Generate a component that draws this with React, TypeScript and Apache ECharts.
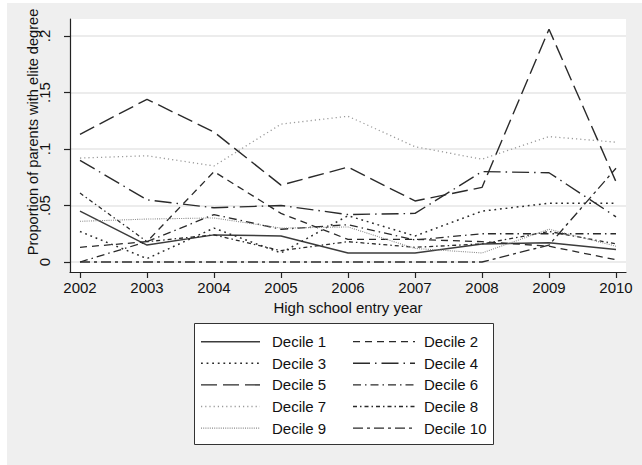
import React, { useEffect, useRef } from "react";
import * as echarts from "echarts";

const years = [2002, 2003, 2004, 2005, 2006, 2007, 2008, 2009, 2010];
const decileNames = [
  "Decile 1", "Decile 2", "Decile 3", "Decile 4", "Decile 5",
  "Decile 6", "Decile 7", "Decile 8", "Decile 9", "Decile 10",
];
const decile1 = [0.045, 0.015, 0.024, 0.023, 0.008, 0.008, 0.016, 0.017, 0.011];
const decile2 = [0.013, 0.018, 0.08, 0.043, 0.02, 0.02, 0.018, 0.014, 0.002];
const decile3 = [0.027, 0.003, 0.03, 0.008, 0.041, 0.023, 0.045, 0.052, 0.052];
const decile4 = [0.09, 0.055, 0.048, 0.05, 0.042, 0.043, 0.08, 0.079, 0.04];
const decile5 = [0.113, 0.144, 0.115, 0.068, 0.084, 0.054, 0.066, 0.206, 0.071];
const decile6 = [0.0, 0.018, 0.042, 0.029, 0.033, 0.0195, 0.025, 0.025, 0.025];
const decile7 = [0.092, 0.094, 0.085, 0.122, 0.129, 0.102, 0.091, 0.111, 0.106];
const decile8 = [0.061, 0.018, 0.024, 0.01, 0.018, 0.013, 0.016, 0.027, 0.016];
const decile9 = [0.036, 0.038, 0.039, 0.03, 0.031, 0.012, 0.008, 0.029, 0.014];
const decile10 = [0, 0, 0, 0, 0, 0, 0, 0.015, 0.083];
const yTicks = [0, 0.05, 0.1, 0.15, 0.2];
const xTicks = years;

const allSeries = [decile1, decile2, decile3, decile4, decile5, decile6, decile7, decile8, decile9, decile10];

// styles (kept apart from data)
const styles: { color: string; width: number; dash: any }[] = [
  { color: "#3c3c3c", width: 1.5, dash: "solid" },
  { color: "#2a2a2a", width: 1.3, dash: [7, 5] },
  { color: "#2a2a2a", width: 1.5, dash: [1.8, 3.8] },
  { color: "#2a2a2a", width: 1.4, dash: [17, 5, 1.5, 5] },
  { color: "#2a2a2a", width: 1.4, dash: [16, 6] },
  { color: "#2a2a2a", width: 1.3, dash: [8, 4, 1.5, 4] },
  { color: "#9a9a9a", width: 1.3, dash: [1.2, 3] },
  { color: "#2a2a2a", width: 1.3, dash: [4, 3, 1.5, 3] },
  { color: "#8a8a8a", width: 1.1, dash: [1, 1.2] },
  { color: "#2a2a2a", width: 1.3, dash: [10, 4, 3, 4] },
];

const FONT = "'Liberation Sans', Arial, Helvetica, sans-serif";
const TXT = "#111";

export default function App() {
  const ref = useRef<HTMLDivElement>(null);
  useEffect(() => {
    if (!ref.current) return;
    const chart = echarts.init(ref.current, undefined, { renderer: "svg" });

    const series = allSeries.map((vals, i) => ({
      name: decileNames[i],
      type: "line",
      data: years.map((y, j) => [y, vals[j]]),
      symbol: "none",
      silent: true,
      clip: false,
      lineStyle: { color: styles[i].color, width: styles[i].width, type: styles[i].dash, cap: "butt" },
      z: 3,
    }));

    // legend drawn as graphic
    const legendChildren: any[] = [];
    legendChildren.push({
      type: "rect",
      shape: { x: 194.5, y: 323.5, width: 299, height: 121 },
      style: { fill: "#fff", stroke: "#333", lineWidth: 1 },
    });
    decileNames.forEach((nm, i) => {
      const col = i % 2;
      const row = Math.floor(i / 2);
      const cy = 341.7 + row * 21.6;
      const x1 = col === 0 ? 201 : 353;
      const x2 = col === 0 ? 260 : 415;
      const tx = col === 0 ? 272 : 424;
      const st: any = { stroke: styles[i].color, lineWidth: styles[i].width };
      if (styles[i].dash !== "solid") st.lineDash = styles[i].dash;
      legendChildren.push({ type: "line", shape: { x1, y1: cy, x2, y2: cy }, style: st });
      legendChildren.push({
        type: "text",
        x: tx,
        y: cy,
        style: { text: nm, fill: TXT, font: `15px ${FONT}`, textAlign: "left", textVerticalAlign: "middle" },
      });
    });

    chart.setOption({
      animation: false,
      backgroundColor: "#fff",
      graphic: [
        { type: "rect", z: -10, shape: { x: 7, y: 3, width: 640, height: 465 }, style: { fill: "#efefef" } },
        {
          type: "text",
          x: 33,
          y: 132,
          rotation: Math.PI / 2,
          style: {
            text: "Proportion of parents with elite degree",
            fill: TXT,
            font: `14.6px ${FONT}`,
            textAlign: "center",
            textVerticalAlign: "middle",
          },
        },
        { type: "group", children: legendChildren },
      ],
      grid: {
        left: 70, right: 16, top: 19, bottom: 193,
        show: true, backgroundColor: "#fff", borderWidth: 0, containLabel: false,
      },
      xAxis: {
        type: "value",
        min: 2002 - 10 / 67,
        max: 2010 + 10 / 67,
        name: "High school entry year",
        nameLocation: "middle",
        nameGap: 21,
        nameTextStyle: { fontFamily: FONT, fontSize: 15, color: TXT },
        axisLine: { show: true, onZero: false, lineStyle: { color: "#222", width: 1.2 } },
        axisTick: { show: true, length: 6, customValues: xTicks, lineStyle: { color: "#222", width: 1.2 } },
        axisLabel: {
          customValues: xTicks,
          margin: 8,
          fontFamily: FONT,
          fontSize: 15,
          color: TXT,
          formatter: (v: number) => String(Math.round(v)),
        },
        splitLine: { show: false },
      },
      yAxis: {
        type: "value",
        min: -10 / 1130,
        max: 0.2 + 17 / 1130,
        axisLine: { show: true, onZero: false, lineStyle: { color: "#222", width: 1.2 } },
        axisTick: { show: true, length: 6, customValues: yTicks, lineStyle: { color: "#222", width: 1.2 } },
        axisLabel: {
          customValues: yTicks,
          rotate: 90,
          margin: 18,
          fontFamily: FONT,
          fontSize: 15,
          color: TXT,
          formatter: (v: number) => (Math.abs(v) < 1e-9 ? "0" : String(+v.toFixed(2)).replace(/^0/, "")),
        },
        splitLine: { show: true, lineStyle: { color: "#e6e6e6", width: 1.5 } },
      },
      series,
    });
    return () => chart.dispose();
  }, []);
  return <div ref={ref} style={{ position: "absolute", left: 0, top: 0, width: 642, height: 465 }} />;
}
